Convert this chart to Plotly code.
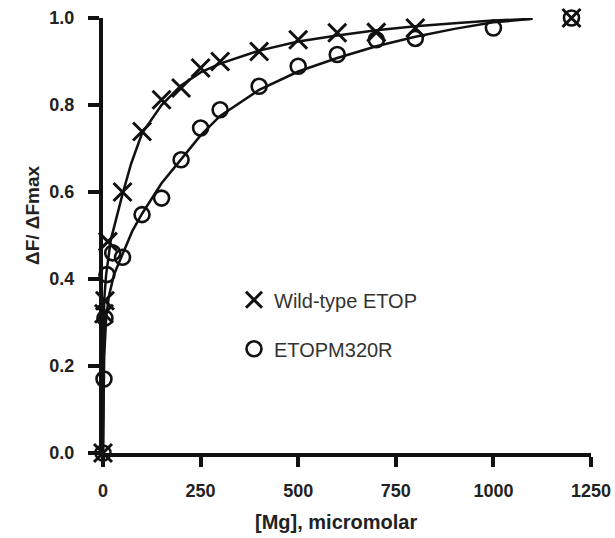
import plotly.graph_objects as go

wt_x = [0, 2.5, 5, 12.5, 50, 100, 150, 200, 250, 300, 400, 500, 600, 700, 800, 1200]
wt_y = [0, 0.32, 0.35, 0.486, 0.60, 0.739, 0.812, 0.839, 0.885, 0.90, 0.923, 0.95, 0.966, 0.967, 0.977, 1.0]

mut_x = [0, 2.5, 5, 10, 25, 50, 100, 150, 200, 250, 300, 400, 500, 600, 700, 800, 1000, 1200]
mut_y = [0, 0.17, 0.31, 0.41, 0.46, 0.45, 0.548, 0.586, 0.674, 0.747, 0.789, 0.843, 0.889, 0.916, 0.95, 0.953, 0.977, 1.0]

# Fitted curves
wt_fit_x = [0, 1, 3, 8, 20, 50, 72, 100, 150, 200, 250, 300, 400, 500, 600, 700, 800, 900, 1000, 1100]
wt_fit_y = [0, 0.18, 0.35, 0.41, 0.49, 0.595, 0.665, 0.735, 0.80, 0.845, 0.875, 0.895, 0.925, 0.946, 0.96, 0.972, 0.981, 0.988, 0.994, 0.998]

mut_fit_x = [0, 1, 3, 8, 15, 28, 41, 55, 75, 100, 150, 200, 250, 300, 400, 500, 600, 700, 800, 900, 1000, 1100]
mut_fit_y = [0, 0.12, 0.22, 0.31, 0.36, 0.41, 0.437, 0.467, 0.51, 0.55, 0.62, 0.675, 0.73, 0.775, 0.835, 0.877, 0.908, 0.935, 0.957, 0.975, 0.99, 0.998]

x_ticks = [0, 250, 500, 750, 1000, 1250]
y_ticks = [0.0, 0.2, 0.4, 0.6, 0.8, 1.0]
y_tick_text = ["0.0", "0.2", "0.4", "0.6", "0.8", "1.0"]

INK = "#111111"
FONT = "Liberation Sans, Arial, sans-serif"

L, R, T, B = 103, 24, 18, 85
W, H = 615, 538
plot_w = W - L - R
plot_h = H - T - B

fig = go.Figure()
fig.add_trace(go.Scatter(x=wt_fit_x, y=wt_fit_y, mode="lines",
                         line=dict(color=INK, width=2.5), showlegend=False,
                         cliponaxis=False, hoverinfo="skip"))
fig.add_trace(go.Scatter(x=mut_fit_x, y=mut_fit_y, mode="lines",
                         line=dict(color=INK, width=2.5), showlegend=False,
                         cliponaxis=False, hoverinfo="skip"))
fig.add_trace(go.Scatter(x=wt_x, y=wt_y, mode="markers", name="Wild-type ETOP",
                         legendgroup="a",
                         marker=dict(symbol="x-thin-open", size=18, color=INK,
                                     line=dict(color=INK, width=3)),
                         cliponaxis=False))
fig.add_trace(go.Scatter(x=mut_x, y=mut_y, mode="markers", name="ETOPM320R",
                         legendgroup="b",
                         marker=dict(symbol="circle-open", size=15, color=INK,
                                     line=dict(color=INK, width=2.6)),
                         cliponaxis=False))

fig.update_layout(
    width=W, height=H,
    margin=dict(l=L, r=R, t=T, b=B, autoexpand=False),
    paper_bgcolor="white", plot_bgcolor="white",
    font=dict(family=FONT, color="#222222"),
    showlegend=True,
    legend=dict(x=(234 - L) / plot_w, y=0.397, xanchor="left", yanchor="top",
                font=dict(size=20, color="#333333", family=FONT),
                tracegroupgap=20, bgcolor="rgba(0,0,0,0)",
                itemwidth=30),
    xaxis=dict(range=[0, 1250], tickvals=x_ticks, automargin=False,
               showline=True, linewidth=4, linecolor=INK,
               ticks="outside", ticklen=10, tickwidth=4, tickcolor=INK,
               showgrid=False, zeroline=False,
               tickfont=dict(size=18, family=FONT, color="#222222", weight="bold"),
               ticklabelstandoff=8),
    yaxis=dict(range=[0, 1.0], tickvals=y_ticks, ticktext=y_tick_text, automargin=False,
               showline=True, linewidth=4, linecolor=INK,
               ticks="outside", ticklen=11, tickwidth=4, tickcolor=INK,
               showgrid=False, zeroline=False,
               tickfont=dict(size=18, family=FONT, color="#222222", weight="bold"),
               ticklabelstandoff=10),
)
fig.add_annotation(text="<b>[Mg], micromolar</b>",
                   x=(336 - L) / plot_w, y=-(522 - (H - B)) / plot_h,
                   xref="paper", yref="paper", showarrow=False,
                   xanchor="center", yanchor="middle",
                   font=dict(size=20, family=FONT, color="#222222"))
fig.add_annotation(text="<b>ΔF/ ΔFmax</b>",
                   x=-(L - 32) / plot_w, y=((H - B) - 215) / plot_h,
                   xref="paper", yref="paper", showarrow=False, textangle=-90,
                   xanchor="center", yanchor="middle",
                   font=dict(size=19, family=FONT, color="#222222"))

fig.write_html("out.html", config={"displayModeBar": False},
               post_script="document.body.style.margin='0';document.body.style.overflow='hidden';")
